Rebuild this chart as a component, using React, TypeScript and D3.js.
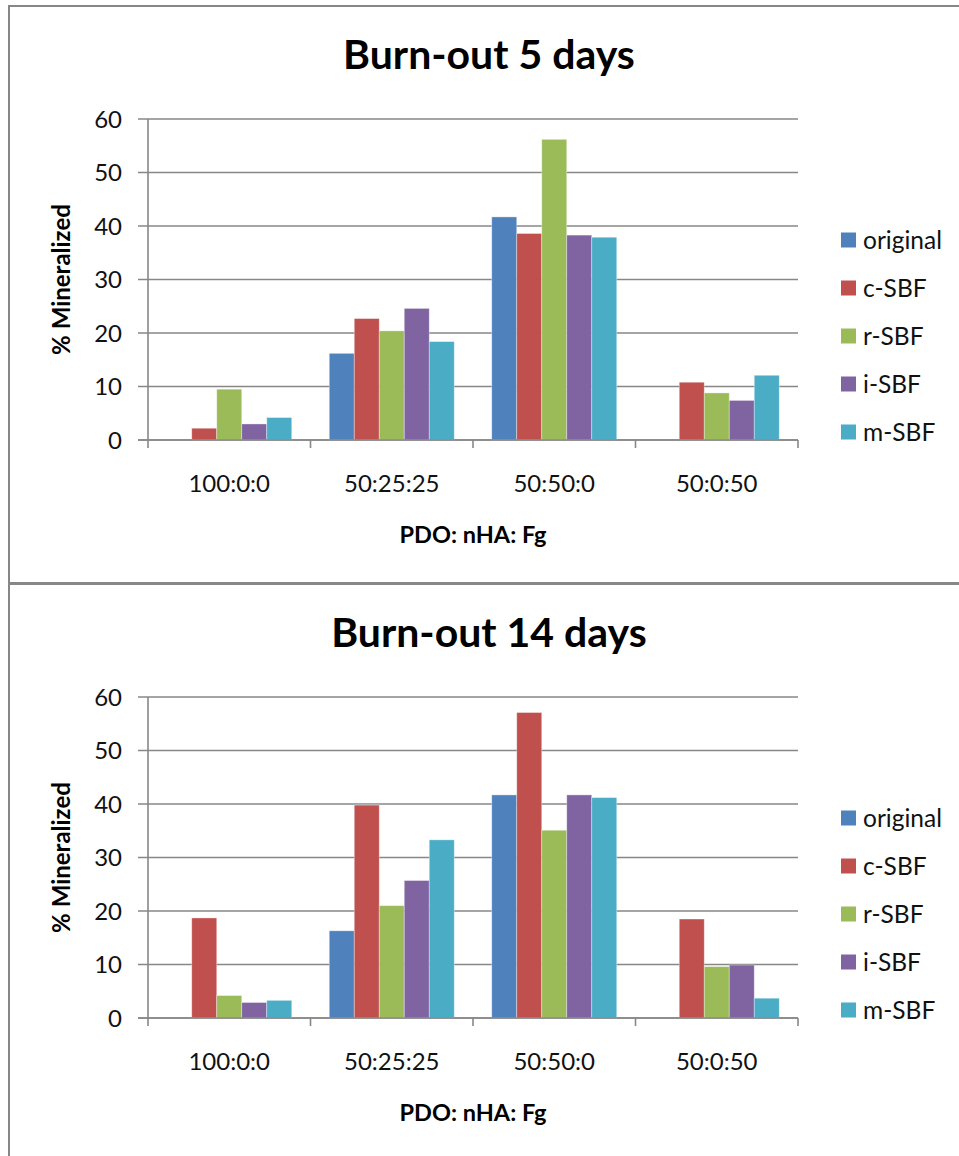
import React from "react";
import * as d3 from "d3";

// categories (PDO: nHA: Fg ratios) and the five SBF series
const categories = ["100:0:0", "50:25:25", "50:50:0", "50:0:50"];
const seriesNames = ["original", "c-SBF", "r-SBF", "i-SBF", "m-SBF"];
const seriesColors = ["#4F81BD", "#C0504D", "#9BBB59", "#8064A2", "#4BACC6"];
const yTicks = [0, 10, 20, 30, 40, 50, 60];

// Burn-out 5 days (null = no bar)
const day5Original = [null, 16.2, 41.7, null];
const day5C = [2.2, 22.7, 38.6, 10.8];
const day5R = [9.5, 20.4, 56.2, 8.8];
const day5I = [3.0, 24.6, 38.3, 7.4];
const day5M = [4.2, 18.4, 37.9, 12.1];

// Burn-out 14 days
const day14Original = [null, 16.3, 41.7, null];
const day14C = [18.7, 39.8, 57.1, 18.5];
const day14R = [4.2, 21.0, 35.1, 9.6];
const day14I = [2.9, 25.7, 41.7, 9.9];
const day14M = [3.3, 33.3, 41.2, 3.7];

const FONT = "Lato, 'Open Sans', sans-serif";
const GRID = "#878787";

type Series = (number | null)[];

function BarChart({ title, series, offsetY }: { title: string; series: Series[]; offsetY: number }) {
  const x = d3.scaleBand().domain(categories).range([148, 798]).paddingInner(0).paddingOuter(0);
  // 150% gap width like Excel: outer padding of 0.75 step on each side
  const xInner = d3
    .scaleBand()
    .domain(seriesNames)
    .range([0, x.bandwidth()])
    .paddingInner(0)
    .paddingOuter(0.75);
  const y = d3.scaleLinear().domain([0, 60]).range([440, 119]);

  return (
    <g transform={`translate(0, ${offsetY})`}>
      <rect x={9} y={6} width={1000} height={577} fill="white" stroke={GRID} strokeWidth={2} />

      <text x={489} y={69} textAnchor="middle" fontFamily={FONT} fontWeight="bold" fontSize={41}>
        {title}
      </text>

      {/* gridlines + y ticks */}
      {yTicks.map((t) => (
        <g key={t}>
          <line x1={138} x2={798} y1={y(t)} y2={y(t)} stroke={GRID} strokeWidth={1.6} />
          <text x={122} y={y(t)} dy="0.36em" textAnchor="end" fontFamily={FONT} fontSize={24} fill="#111">
            {t}
          </text>
        </g>
      ))}

      {/* bars */}
      {series.map((vals, si) =>
        vals.map((v, ci) =>
          v == null ? null : (
            <rect
              key={`${si}-${ci}`}
              x={(x(categories[ci]) as number) + (xInner(seriesNames[si]) as number)}
              y={y(v)}
              width={xInner.bandwidth()}
              height={y(0) - y(v)}
              fill={seriesColors[si]}
              stroke="#ffffff"
              strokeOpacity={0.45}
              strokeWidth={0.8}
            />
          )
        )
      )}

      {/* axes */}
      <line x1={148} x2={148} y1={y(60)} y2={448} stroke={GRID} strokeWidth={1.6} />
      <line x1={138} x2={798} y1={y(0)} y2={y(0)} stroke={GRID} strokeWidth={1.6} />
      {categories.map((c) => (
        <g key={c}>
          <line
            x1={(x(c) as number) + x.bandwidth()}
            x2={(x(c) as number) + x.bandwidth()}
            y1={y(0)}
            y2={448}
            stroke={GRID}
            strokeWidth={1.6}
          />
          <text
            x={(x(c) as number) + x.bandwidth() / 2}
            y={492}
            textAnchor="middle"
            fontFamily={FONT}
            fontSize={24}
            fill="#111"
          >
            {c}
          </text>
        </g>
      ))}

      <text x={473} y={543} textAnchor="middle" fontFamily={FONT} fontWeight="bold" fontSize={23.5}>
        PDO: nHA: Fg
      </text>
      <text
        transform={`translate(61, ${(y(0) + y(60)) / 2}) rotate(-90)`}
        textAnchor="middle"
        dy="0.36em"
        fontFamily={FONT}
        fontWeight="bold"
        fontSize={24}
      >
        % Mineralized
      </text>

      {/* legend */}
      {seriesNames.map((s, i) => (
        <g key={s} transform={`translate(841, ${240 + i * 48})`}>
          <rect x={0} y={-7.5} width={15} height={15} fill={seriesColors[i]} />
          <text x={22} y={0} dy="0.36em" fontFamily={FONT} fontSize={24.5} fill="#111">
            {s}
          </text>
        </g>
      ))}
    </g>
  );
}

export default function App() {
  return (
    <div style={{ position: "absolute", left: 0, top: 0 }}>
      <svg width={959} height={1156} style={{ display: "block", background: "white" }}>
        <BarChart
          title="Burn-out 5 days"
          series={[day5Original, day5C, day5R, day5I, day5M]}
          offsetY={0}
        />
        <BarChart
          title="Burn-out 14 days"
          series={[day14Original, day14C, day14R, day14I, day14M]}
          offsetY={578}
        />
      </svg>
    </div>
  );
}
